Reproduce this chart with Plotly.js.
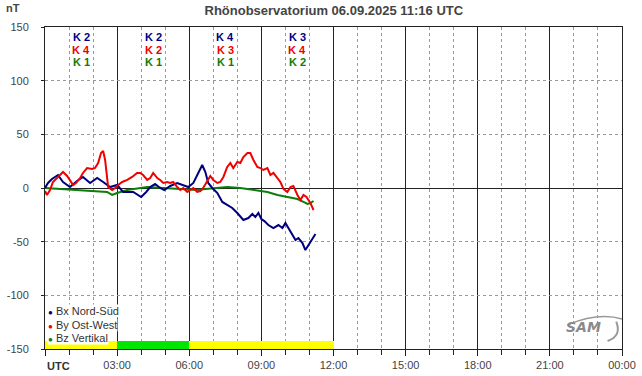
<!DOCTYPE html>
<html>
<head>
<meta charset="utf-8">
<script src="https://cdn.plot.ly/plotly-3.0.1.min.js"></script>
<style>html,body{margin:0;padding:0;background:#fff;}#chart{width:642px;height:376px;}</style>
</head>
<body>
<div id="chart"></div>
<script>
// ---- data (time in hours UTC, values in nT) ----
const bxTime = [0,0.125,0.29,0.54,0.75,1.04,1.33,1.58,1.875,2.17,2.42,2.71,3.0,3.25,3.67,4.0,4.21,4.375,4.58,4.79,4.96,5.21,5.5,5.75,5.96,6.17,6.375,6.54,6.67,6.79,6.96,7.17,7.375,7.58,7.79,8.0,8.25,8.46,8.625,8.75,8.875,9.0,9.125,9.29,9.5,9.71,9.875,10.0,10.125,10.29,10.42,10.54,10.71,10.83,10.92,11.04,11.17,11.25];
const bxVals = [0,4.7,8.4,12.1,5.6,0.9,6.5,10.3,4.7,9.3,5.6,0.9,2.8,-3.7,-3.7,-8.4,-3.7,0.9,3.7,0,-1.9,1.9,4.7,2.8,0.9,4.7,14,21.4,14.9,4.7,0,-4.7,-13,-15.8,-18.6,-23.3,-29.8,-28,-24.2,-27,-23.3,-28.9,-30.8,-34.5,-37.3,-34.5,-37.3,-32.6,-37.3,-43.8,-48.5,-46.6,-51.3,-57.8,-55,-50.3,-45.7,-42.9];

const byTime = [0,0.08,0.21,0.33,0.54,0.75,0.92,1.04,1.17,1.29,1.46,1.58,1.75,1.96,2.08,2.21,2.33,2.42,2.5,2.58,2.625,2.79,2.92,3.04,3.21,3.42,3.625,3.83,3.96,4.08,4.25,4.375,4.5,4.67,4.79,4.92,5.08,5.21,5.33,5.5,5.625,5.75,5.92,6.04,6.17,6.33,6.46,6.58,6.75,6.875,7.0,7.17,7.29,7.42,7.58,7.71,7.83,8.0,8.125,8.25,8.42,8.54,8.67,8.83,8.96,9.08,9.25,9.375,9.5,9.67,9.79,9.92,10.08,10.21,10.33,10.5,10.625,10.75,10.875,11.04,11.17];
const byVals = [-2.8,-6.5,-1.9,5.6,10.3,14.9,11.2,7.5,2.8,4.7,9.3,14,18.6,17.7,18.6,23.3,32.6,34.5,26.1,10.3,0.9,-1.9,0,2.8,5.6,7.5,10.3,14,14,12.1,7.5,9.3,14,9.3,7.5,4.7,5.6,4.7,5.6,0.9,-1.9,0,-3.7,-1.9,0,-3.7,-2.8,0,6.5,11.2,7.5,4.7,5.6,10.3,19.6,23.3,18.6,24.2,23.3,28.9,32.6,32.6,26.1,19.6,18.6,16.8,18.6,12.1,14,9.3,5.6,-0.9,-3.7,0.9,1.9,-6.5,-11.2,-6.5,-8.4,-14,-20.5];

const bzTime = [0,0.625,1.17,1.875,2.58,2.79,3.0,3.42,3.96,4.25,4.92,5.625,6.33,6.67,7.0,7.58,8.125,8.83,9.25,9.67,10.08,10.5,10.75,10.92,11.04,11.17];
const bzVals = [0,-0.9,-1.9,-2.8,-3.7,-6.5,-4.7,-1.9,0,0.9,0,-0.9,-1.9,-0.9,0,0.9,0,-1.9,-3.7,-6.5,-8.4,-10.3,-13,-14.9,-14,-12.1];

// K indices per 3-hour block
const kBlocks = [1.5, 4.5, 7.5, 10.5];
const kBx = [2, 2, 4, 3];
const kBy = [4, 2, 3, 4];
const kBz = [1, 1, 1, 2];

const xTickVals = [0,3,6,9,12,15,18,21,24];
const xTickText = ['','03:00','06:00','09:00','12:00','15:00','18:00','21:00','00:00'];
const yTickVals = [-150,-100,-50,0,50,100,150];
const yTickText = ['-150','-100','-50','0','50','100','150'];

const seriesNames = ['Bx Nord-Süd','By Ost-West','Bz Vertikal'];
const titleText = 'Rhönobservatorium 06.09.2025 11:16 UTC';

// ---- styling ----
const cBx = '#00007f', cBy = '#f00000', cBz = '#0a7d0a';
const font = 'Liberation Sans, Arial, sans-serif';

const traces = [
  {x: bzTime, y: bzVals, type:'scatter', mode:'lines', line:{color:cBz, width:2}, showlegend:false, hoverinfo:'skip'},
  {x: bxTime, y: bxVals, type:'scatter', mode:'lines', line:{color:cBx, width:2}, showlegend:false, hoverinfo:'skip'},
  {x: byTime, y: byVals, type:'scatter', mode:'lines', line:{color:cBy, width:2}, showlegend:false, hoverinfo:'skip'}
];

// activity band from max K per block
const bandColor = kBlocks.map((_, i) => {
  const m = Math.max(kBx[i], kBy[i], kBz[i]);
  return m <= 2 ? '#00e600' : (m <= 4 ? '#ffff00' : '#ff0000');
});
traces.unshift({
  x: kBlocks, y: kBlocks.map(() => 7.6), base: -150, width: 3, type:'bar',
  marker:{color: bandColor, line:{width:0}}, showlegend:false, hoverinfo:'skip'
});

const annotations = [];
const kRows = [[kBx, cBx, 140.7], [kBy, cBy, 128.8], [kBz, cBz, 117.2]];
kRows.forEach(([arr, col, yy]) => {
  arr.forEach((k, i) => {
    annotations.push({x: kBlocks[i], y: yy, xref:'x', yref:'y', text:'<b>K ' + k + '</b>',
      showarrow:false, font:{family:font, size:11, color:col}, borderpad:0});
  });
});
// y unit
annotations.push({xref:'paper', yref:'paper', x:-0.055, y:1.035, xanchor:'center', yanchor:'bottom',
  text:'<b>nT</b>', showarrow:false, font:{family:font, size:11, color:'#444'}});
// UTC label
annotations.push({xref:'x', yref:'paper', x:0, y:-0.028, xanchor:'left', yanchor:'top',
  text:'<b>UTC</b>', showarrow:false, font:{family:font, size:11, color:'#333'}});
// legend
const legCols = [cBx, cBy, cBz];
const legY = [311, 325, 338];
seriesNames.forEach((n, i) => {
  annotations.push({xref:'paper', yref:'paper', x:(47-45)/577, y:(349-legY[i])/322, xanchor:'left', yanchor:'middle',
    text:'<span style="color:' + legCols[i] + ';font-size:8px">●</span> ' + n, showarrow:false,
    font:{family:font, size:11, color:'#333'}, borderpad:0, bgcolor:'#ffffff'});
});
// SAM logo text
annotations.push({xref:'paper', yref:'paper', x:(583-45)/577, y:(349-327)/322, xanchor:'center', yanchor:'middle',
  text:'<i><b>SAM</b></i>', showarrow:false, font:{family:'DejaVu Sans, sans-serif', size:14, color:'#8a8a8a'}});

const layout = {
  width:642, height:376,
  margin:{l:45, r:20, t:27, b:27},
  paper_bgcolor:'#fff', plot_bgcolor:'#fff',
  font:{family:font, size:11, color:'#444'},
  title:{text:'<b>' + titleText + '</b>', x:0.52, xanchor:'center', y:0.985, yanchor:'top',
    font:{family:font, size:13, color:'#444'}},
  showlegend:false,
  bargap:0,
  xaxis:{range:[0,24], tickmode:'array', tickvals:xTickVals, ticktext:xTickText,
    showgrid:true, gridcolor:'#222', gridwidth:1,
    ticks:'outside', ticklen:6, tickcolor:'#222',
    showline:true, linecolor:'#222', linewidth:1, mirror:true, zeroline:false,
    minor:{tickmode:'array', tickvals:Array.from({length:24},(_,i)=>i).filter(h=>h%3!==0),
      showgrid:true, gridcolor:'#999', griddash:'3px,3px', ticks:'outside', ticklen:5, tickcolor:'#222'},
    tickfont:{family:font, size:11, color:'#444'}, fixedrange:true},
  yaxis:{range:[-150,150], tickmode:'array', tickvals:yTickVals, ticktext:yTickText,
    showgrid:true, gridcolor:'#999', griddash:'3px,3px',
    zeroline:true, zerolinecolor:'#222', zerolinewidth:1,
    ticks:'outside', ticklen:3, tickcolor:'#222', ticklabelstandoff:10,
    showline:true, linecolor:'#222', linewidth:1, mirror:true,
    tickfont:{family:font, size:11, color:'#444'}, fixedrange:true},
  annotations: annotations,
  shapes:[
    {type:'path', xref:'paper', yref:'paper',
     path:'M 0.905 0.075 Q 0.96 0.115 1.0 0.093', line:{color:'#999', width:1.5}},
    {type:'path', xref:'paper', yref:'paper',
     path:'M 0.99 0.085 Q 1.0 0.04 0.975 0.025', line:{color:'#999', width:2}}
  ]
};

Plotly.newPlot('chart', traces, layout, {displayModeBar:false, staticPlot:true});
</script>
</body>
</html>
